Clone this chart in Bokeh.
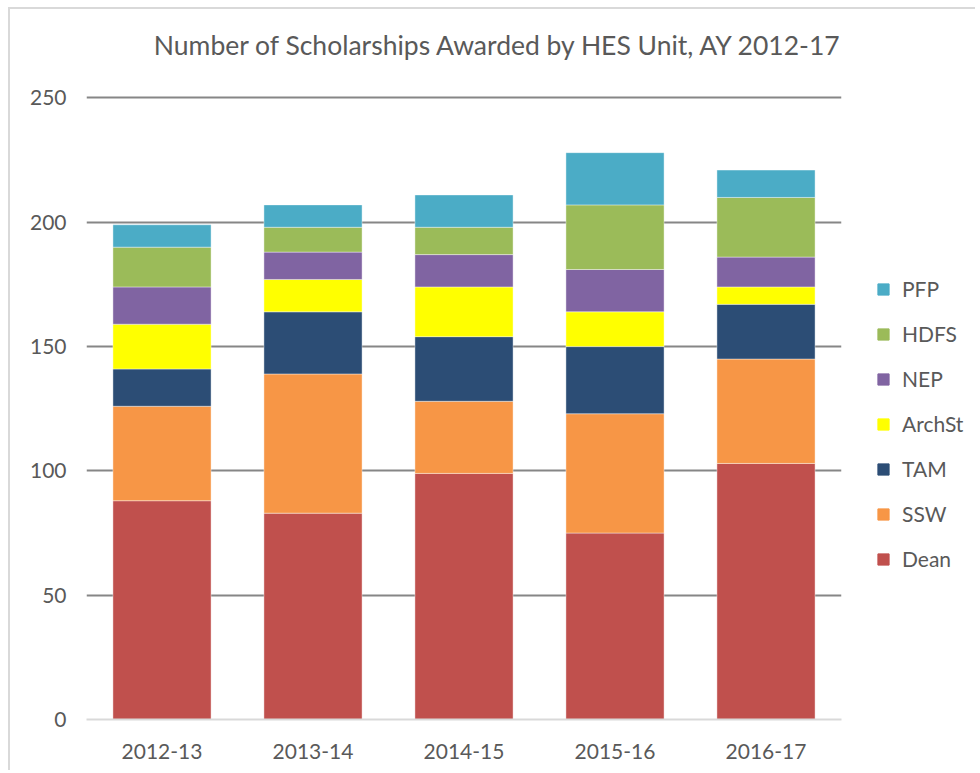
from bokeh.plotting import figure
from bokeh.models import FactorRange, Range1d, FixedTicker, Legend, LegendItem, Label
from bokeh.layouts import row, column
from bokeh.embed import file_html
from bokeh.resources import INLINE

years = ["2012-13", "2013-14", "2014-15", "2015-16", "2016-17"]
units = ["Dean", "SSW", "TAM", "ArchSt", "NEP", "HDFS", "PFP"]
dean = [88, 83, 99, 75, 103]
ssw = [38, 56, 29, 48, 42]
tam = [15, 25, 26, 27, 22]
archst = [18, 13, 20, 14, 7]
nep = [15, 11, 13, 17, 12]
hdfs = [16, 10, 11, 26, 24]
pfp = [9, 9, 13, 21, 11]
y_ticks = [0, 50, 100, 150, 200, 250]
title_text = "Number of Scholarships Awarded by HES Unit, AY 2012-17"

colors = ["#C0504D", "#F79646", "#2C4D75", "#FFFF00", "#8064A2", "#9BBB59", "#4BACC6"]
FONT = "Lato"
TXT = "#595959"

data = {"years": years, "Dean": dean, "SSW": ssw, "TAM": tam, "ArchSt": archst,
        "NEP": nep, "HDFS": hdfs, "PFP": pfp}

OX, OY = 10, 9           # content origin inside the light chart border
TH = 60                  # title strip height
MH = 701                 # main row height
WM = 850                 # main figure width
WL = 115                 # legend figure width
top_main = OY + TH

# ---- title strip
tf = figure(width=WM + WL, height=TH, output_backend="svg", toolbar_location=None,
            x_axis_type=None, y_axis_type=None, min_border=0,
            x_range=Range1d(0, 1), y_range=Range1d(0, 1))
tf.outline_line_color = None
tf.xgrid.grid_line_color = None
tf.ygrid.grid_line_color = None
tf.add_layout(Label(x=498.5 - OX, y=25, x_units="screen", y_units="screen",
                    text=title_text, text_align="center", text_baseline="alphabetic",
                    text_font=FONT, text_font_size="26.5px", text_color=TXT))

# ---- main chart
p = figure(x_range=FactorRange(*years, range_padding=0), y_range=Range1d(0, 251),
           width=WM, height=MH, output_backend="svg", toolbar_location=None,
           min_border_left=86 - OX, min_border_right=OX + WM - 841,
           min_border_top=95 - top_main, min_border_bottom=top_main + MH - 719)
p.outline_line_color = None

rs = p.vbar_stack(units, x="years", width=0.65, color=colors, source=data,
                  line_color="white", line_alpha=0.5, line_width=0.8)

p.yaxis.ticker = FixedTicker(ticks=y_ticks)
p.ygrid.ticker = FixedTicker(ticks=y_ticks[1:])
p.ygrid.grid_line_color = "#868686"
p.ygrid.grid_line_width = 2
p.xgrid.grid_line_color = None

p.yaxis.axis_line_color = None
p.yaxis.major_tick_line_color = None
p.yaxis.minor_tick_line_color = None
p.yaxis.major_label_standoff = 14
p.yaxis.major_label_text_font = FONT
p.yaxis.major_label_text_font_size = "21px"
p.yaxis.major_label_text_color = TXT

p.xaxis.axis_line_color = "#D9D9D9"
p.xaxis.axis_line_width = 2
p.xaxis.major_tick_line_color = None
p.xaxis.minor_tick_line_color = None
p.xaxis.major_label_standoff = 18
p.xaxis.major_label_text_font = FONT
p.xaxis.major_label_text_font_size = "21px"
p.xaxis.major_label_text_color = TXT

# ---- legend panel: same stacked series (hidden), only their legend swatches show
lf = figure(width=WL, height=MH, output_backend="svg", toolbar_location=None,
            x_axis_type=None, y_axis_type=None, min_border=0,
            x_range=FactorRange(*years), y_range=Range1d(0, 251))
lf.outline_line_color = None
lf.xgrid.grid_line_color = None
lf.ygrid.grid_line_color = None
lrs = lf.vbar_stack(units, x="years", width=0.65, color=colors, source=data)
for r in lrs:
    r.visible = False

items = [LegendItem(label=u, renderers=[r]) for u, r in zip(units, lrs)][::-1]
legend = Legend(items=items, location=(16, 148), orientation="vertical",
                glyph_width=14, glyph_height=14, label_height=20, spacing=20,
                label_standoff=12, padding=0, margin=0, border_line_color=None,
                background_fill_alpha=0, click_policy="none",
                inactive_fill_alpha=0,
                label_text_font=FONT, label_text_font_size="21px", label_text_color=TXT)
lf.add_layout(legend, "center")

layout = column(tf, row(p, lf), margin=(OY - 2, 0, 0, OX - 2),
                styles={"border-top": "2px solid #D9D9D9", "border-left": "2px solid #D9D9D9"})
open("out.html", "w").write(file_html(layout, INLINE))
